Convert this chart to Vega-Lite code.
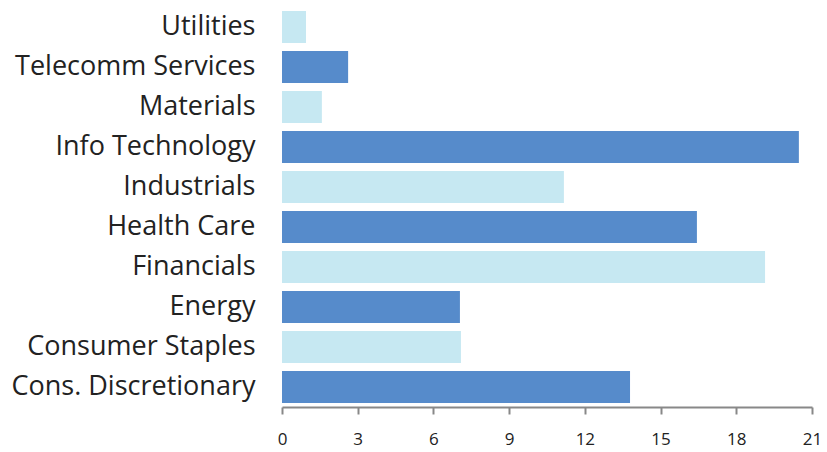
{
  "$schema": "https://vega.github.io/schema/vega-lite/v6.json",
  "width": 530,
  "height": 400,
  "autosize": {"type": "none"},
  "padding": {"left": 282, "top": 7, "right": 15, "bottom": 45},
  "background": "white",
  "data": {
    "values": [
      {"sector": "Utilities", "value": 0.95, "group": "A"},
      {"sector": "Telecomm Services", "value": 2.62, "group": "B"},
      {"sector": "Materials", "value": 1.58, "group": "A"},
      {"sector": "Info Technology", "value": 20.48, "group": "B"},
      {"sector": "Industrials", "value": 11.17, "group": "A"},
      {"sector": "Health Care", "value": 16.44, "group": "B"},
      {"sector": "Financials", "value": 19.14, "group": "A"},
      {"sector": "Energy", "value": 7.05, "group": "B"},
      {"sector": "Consumer Staples", "value": 7.09, "group": "A"},
      {"sector": "Cons. Discretionary", "value": 13.79, "group": "B"}
    ]
  },
  "mark": {"type": "bar"},
  "encoding": {
    "y": {
      "field": "sector",
      "type": "nominal",
      "sort": null,
      "scale": {"paddingInner": 0.2, "paddingOuter": 0.1},
      "axis": {
        "title": null,
        "domain": false,
        "ticks": false,
        "labelFont": "Open Sans",
        "labelFontSize": 27,
        "labelColor": "#222222",
        "labelPadding": 27,
        "labelLimit": 400
      }
    },
    "x": {
      "field": "value",
      "type": "quantitative",
      "scale": {"domain": [0, 21], "nice": false},
      "axis": {
        "title": null,
        "values": [0, 3, 6, 9, 12, 15, 18, 21],
        "grid": false,
        "domainColor": "#888888",
        "domainWidth": 2,
        "tickColor": "#888888",
        "tickWidth": 2,
        "tickSize": 7,
        "labelFlush": false,
        "labelFont": "Open Sans",
        "labelFontSize": 17,
        "labelColor": "#222222",
        "labelPadding": 17
      }
    },
    "color": {
      "field": "group",
      "type": "nominal",
      "scale": {"domain": ["A", "B"], "range": ["#C6E8F2", "#568BCB"]},
      "legend": null
    }
  },
  "config": {"view": {"stroke": null}}
}
